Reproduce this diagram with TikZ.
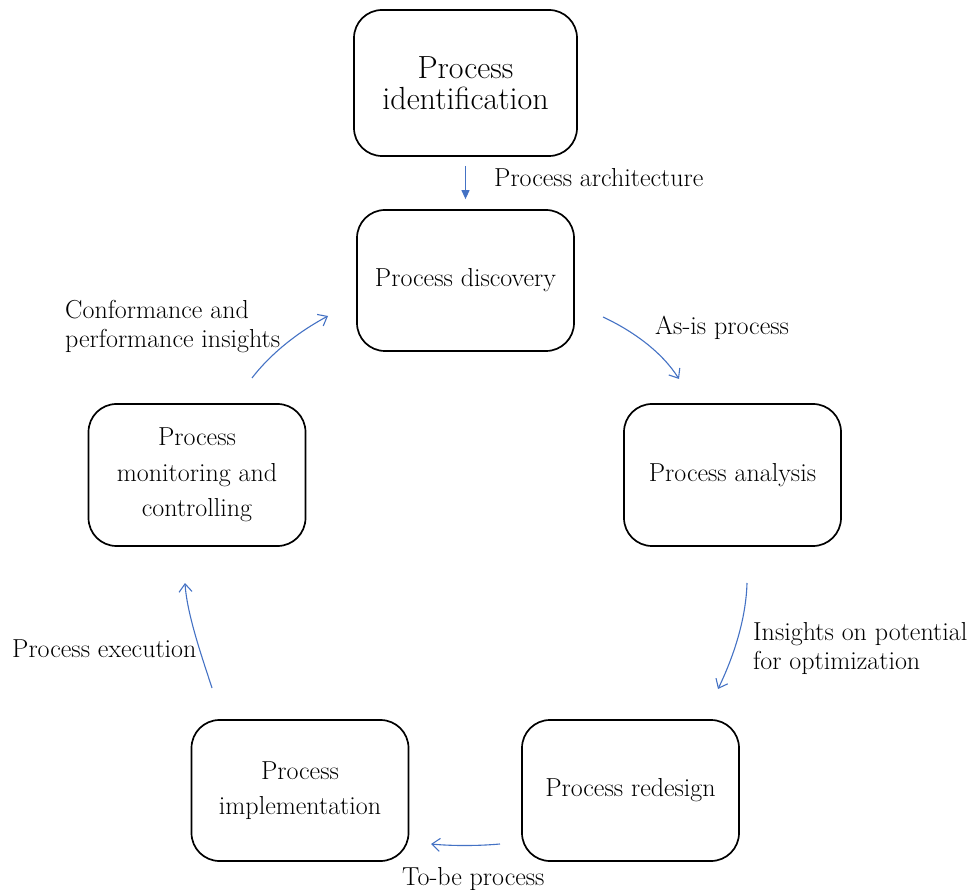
\documentclass[tikz,border=0pt]{standalone}
\usetikzlibrary{arrows.meta}
\definecolor{flowblue}{RGB}{68,114,196}
\begin{document}
\begin{tikzpicture}[x=1pt,y=-1pt,
  stage/.style={draw=black, line width=1.7pt, rounded corners=28pt, align=center,
    inner sep=0pt, minimum width=217pt, minimum height=141pt,
    font=\fontsize{26}{35.5}\selectfont},
  flow/.style={draw=flowblue, line width=1.1pt, -{Straight Barb[length=8pt,width=13pt]}},
  lbl/.style={font=\fontsize{26}{29}\selectfont, align=left, inner sep=0pt}]
\useasboundingbox (0,0) rectangle (970,890);

% stages of the lifecycle
\node[stage, minimum width=223pt, minimum height=146pt,
      font=\fontsize{32}{31}\selectfont] (ident) at (465.5,83) {Process\\identification};
\node[stage] (disc)  at (465.5,280.5) {Process discovery};
\node[stage, minimum height=142pt] (anal)  at (732.5,475) {Process analysis};
\node[stage] (redes) at (630.5,790.5) {Process redesign};
\node[stage] (impl)  at (300,790.5) {Process\\implementation};
\node[stage, minimum height=142pt] (monit) at (197,475) {Process\\monitoring and\\controlling};

% free ends of the cycle arrows
\coordinate (asisS) at (603,317);  \coordinate (asisE) at (679,379);
\coordinate (optS)  at (747,583);  \coordinate (optE)  at (718,689);
\coordinate (tobeS) at (500,844);  \coordinate (tobeE) at (431,844);
\coordinate (execS) at (212,688);  \coordinate (execE) at (185,583);
\coordinate (confS) at (252,378);  \coordinate (confE) at (328,316);

% connectors
\draw[flow, -{Triangle[length=9pt,width=8pt]}, shorten <=9pt, shorten >=10pt] (ident) -- (disc);
\draw[flow] (asisS) .. controls (633,331) and (662,352) .. (asisE);
\draw[flow] (optS) .. controls (746,620) and (733,658) .. (optE);
\draw[flow] (tobeS) .. controls (478,846) and (452,846) .. (tobeE);
\draw[flow] (execS) .. controls (203,660) and (187,615) .. (execE);
\draw[flow] (confS) .. controls (272,352) and (300,331) .. (confE);

% connector labels
\node[lbl, anchor=base west] (lArch) at (494,187) {Process architecture};
\node[lbl, anchor=base west] (lAsis) at (655,335) {As-is process};
\node[lbl, anchor=west] (lOpt) at (753,649) {Insights on potential\\for optimization};
\node[lbl, anchor=base west] (lTobe) at (402,885) {To-be process};
\node[lbl, anchor=base west] (lExec) at (12,657) {Process execution};
\node[lbl, anchor=west] (lConf) at (65,327) {Conformance and\\performance insights};
\end{tikzpicture}
\end{document}
